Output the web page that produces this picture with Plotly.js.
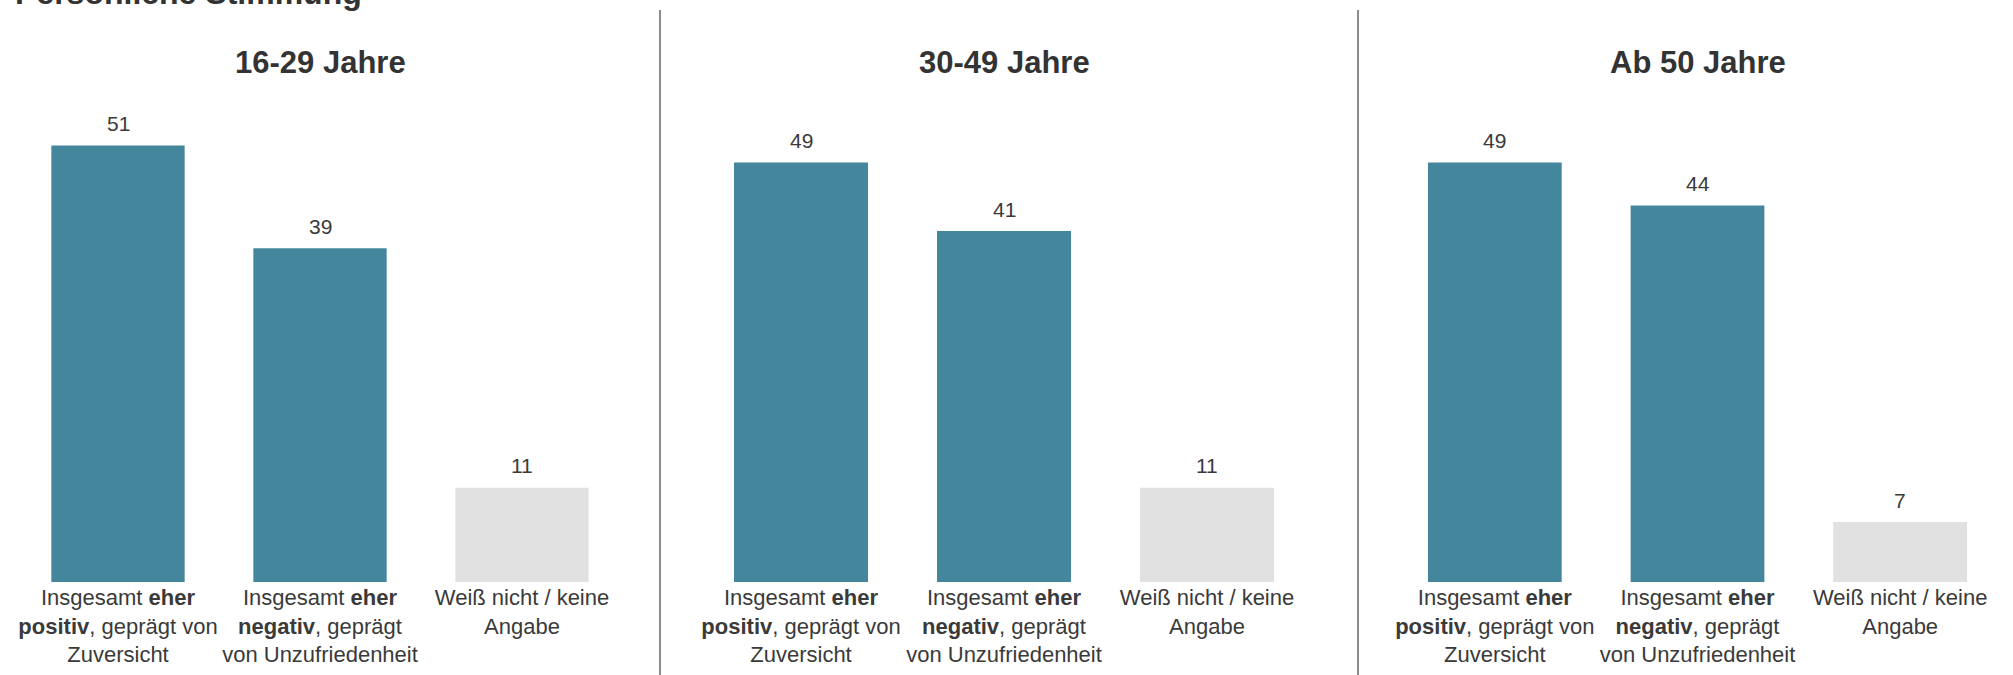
<!DOCTYPE html>
<html>
<head>
<meta charset="utf-8">
<script src="https://cdn.plot.ly/plotly-3.0.1.min.js"></script>
<style>html,body{margin:0;padding:0;background:#fff;}#chart{width:2013px;height:675px;}</style>
</head>
<body>
<div id="chart"></div>
<script>
const chartTitle = "Persönliche Stimmung";
const categories = [
  "Insgesamt <b>eher</b><br><b>positiv</b>, geprägt von<br>Zuversicht",
  "Insgesamt <b>eher</b><br><b>negativ</b>, geprägt<br>von Unzufriedenheit",
  "Weiß nicht / keine<br>Angabe"
];
const panelTitles = ["16-29 Jahre", "30-49 Jahre", "Ab 50 Jahre"];
const values1629 = [51, 39, 11];
const values3049 = [49, 41, 11];
const values50plus = [49, 44, 7];
const barColors = ["#44879C", "#44879C", "#E1E1E1"];

const W = 2013, H = 675;
const plotBottom = 93;
const plotH = H - plotBottom;
const FONT = "Liberation Sans, Arial, sans-serif";
const textColor = "#3a3a3a";

const panels = [values1629, values3049, values50plus];
const domains = [[17/W, 623/W], [699.5/W, 1308.5/W], [1393.5/W, 2001.5/W]];
const axisIds = ["x", "x2", "x3"];

const traces = panels.map((vals, i) => ({
  type: "bar",
  x: categories,
  y: vals,
  xaxis: axisIds[i],
  yaxis: "y",
  marker: {color: barColors},
  hoverinfo: "skip",
  showlegend: false
}));

const layout = {
  width: W, height: H,
  margin: {l: 0, r: 0, t: 0, b: plotBottom},
  paper_bgcolor: "#fff", plot_bgcolor: "#fff",
  bargap: 0.34,
  font: {family: FONT, color: textColor},
  yaxis: {range: [0, 68], visible: false, fixedrange: true},
  annotations: [],
  shapes: []
};

axisIds.forEach((id, i) => {
  const key = id === "x" ? "xaxis" : "xaxis" + id.slice(1);
  layout[key] = {
    domain: domains[i], anchor: "y", type: "category", range: [-0.5, 2.5],
    showgrid: false, zeroline: false, showline: false, ticks: "",
    tickfont: {size: 22, family: FONT, color: textColor},
    automargin: false, fixedrange: true
  };
  // panel title
  layout.annotations.push({
    text: "<b>" + panelTitles[i] + "</b>",
    xref: id + " domain", x: 0.5, xanchor: "center",
    yref: "paper", y: (plotH - 63) / plotH, yanchor: "middle",
    showarrow: false, font: {size: 31, family: FONT, color: "#333333"}
  });
  // value labels
  panels[i].forEach((v, j) => {
    layout.annotations.push({
      text: String(v), xref: id, x: categories[j], yref: "y", y: v,
      yanchor: "middle", yshift: 22, showarrow: false,
      font: {size: 21, family: FONT, color: textColor}
    });
  });
});

// chart title (cut at top as in the reference)
layout.annotations.push({
  text: "<b>" + chartTitle + "</b>",
  xref: "paper", x: 13/W, xanchor: "left",
  yref: "paper", y: (plotH + 7) / plotH, yanchor: "middle",
  showarrow: false, font: {size: 32, family: FONT, color: "#333333"}
});

// dividers
[660, 1358].forEach(px => {
  layout.shapes.push({
    type: "line", xref: "paper", yref: "paper",
    x0: px / W, x1: px / W, y0: (plotH - H) / plotH, y1: (plotH - 10) / plotH,
    line: {color: "#8c8c8c", width: 2}
  });
});

Plotly.newPlot("chart", traces, layout, {displayModeBar: false, staticPlot: true});
</script>
</body>
</html>
